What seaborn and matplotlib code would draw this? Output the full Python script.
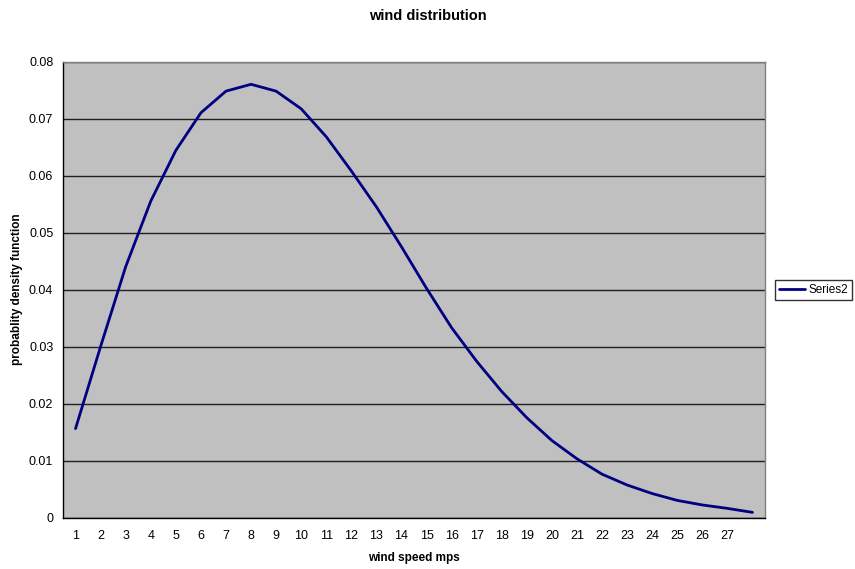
import matplotlib
matplotlib.use("Agg")
import matplotlib.pyplot as plt
import seaborn as sns
import pandas as pd
import numpy as np
from matplotlib.ticker import FixedLocator, NullFormatter

# wind speed categories (the last slot carries a point but no label)
speed_labels = [str(i) for i in range(1, 28)] + [""]
pdf_values = [0.0156, 0.0300, 0.0440, 0.0555, 0.0644, 0.0710, 0.0748, 0.0760,
              0.0748, 0.0717, 0.0668, 0.0608, 0.0545, 0.0475, 0.0402, 0.0333,
              0.0274, 0.0221, 0.0175, 0.0135, 0.0103, 0.0076, 0.0057, 0.0042,
              0.0030, 0.0022, 0.0016, 0.0009]
y_ticks = [0, 0.01, 0.02, 0.03, 0.04, 0.05, 0.06, 0.07, 0.08]

sns.set_style("white")
plt.rcParams["font.family"] = ["Liberation Sans", "DejaVu Sans"]
plt.rcParams["text.color"] = "black"
plt.rcParams["axes.labelcolor"] = "black"
plt.rcParams["xtick.color"] = "black"
plt.rcParams["ytick.color"] = "black"

df = pd.DataFrame({"slot": np.arange(1, len(pdf_values) + 1), "pdf": pdf_values})

fig = plt.figure(figsize=(8.55, 5.69), dpi=100)
ax = fig.add_axes([63 / 855, 1 - 517.5 / 569, (765 - 63) / 855, (517.5 - 61.5) / 569])
ax.set_facecolor("#C0C0C0")

sns.lineplot(data=df, x="slot", y="pdf", ax=ax, color="#000080", linewidth=2,
             label="Series2", legend=False, zorder=3)

n = len(pdf_values)
ax.set_xlim(0.5, n + 0.5)
ax.set_ylim(0, 0.08)

# category labels centred in their slots, ticks on the slot boundaries
ax.xaxis.set_major_locator(FixedLocator(df["slot"].tolist()))
ax.set_xticklabels(speed_labels)
ax.xaxis.set_minor_locator(FixedLocator(np.arange(0.5, n + 1, 1.0)))
ax.xaxis.set_minor_formatter(NullFormatter())
ax.tick_params(axis="x", which="major", length=0, pad=9, labelsize=9, labelcolor="black")
ax.tick_params(axis="x", which="minor", length=4, width=1, direction="out", color="black")

ax.set_yticks(y_ticks)
ax.set_yticklabels(["0" if v == 0 else f"{v:.2f}" for v in y_ticks])
ax.tick_params(axis="y", length=4, width=1, direction="out", color="black",
               labelsize=9, pad=3, labelcolor="black")

ax.yaxis.grid(True, color="#202020", linewidth=1)
ax.xaxis.grid(False)
ax.set_axisbelow(True)

for side in ("left", "bottom"):
    ax.spines[side].set_color("black")
    ax.spines[side].set_linewidth(1)
for side in ("top", "right"):
    ax.spines[side].set_color("#808080")
    ax.spines[side].set_linewidth(1)

ax.set_xlabel("wind speed mps", fontsize=8.5, fontweight="bold", labelpad=7, color="black")
ax.set_ylabel("probablity density function", fontsize=8.5, fontweight="bold",
              labelpad=4, color="black")
fig.text(0.5, 1 - 16 / 569, "wind distribution", ha="center", va="center",
         fontsize=10.5, fontweight="bold", color="black")

leg = ax.legend(loc="center left", bbox_to_anchor=(775 / 855, 1 - 290 / 569),
                bbox_transform=fig.transFigure, frameon=True, fancybox=False,
                fontsize=8.5, handlelength=2.2, handletextpad=0.3,
                borderpad=0.35, borderaxespad=0)
leg.get_frame().set_edgecolor("black")
leg.get_frame().set_linewidth(1)
leg.get_frame().set_facecolor("white")
for t in leg.get_texts():
    t.set_color("black")

fig.savefig("out.png", dpi=100, facecolor="white")
